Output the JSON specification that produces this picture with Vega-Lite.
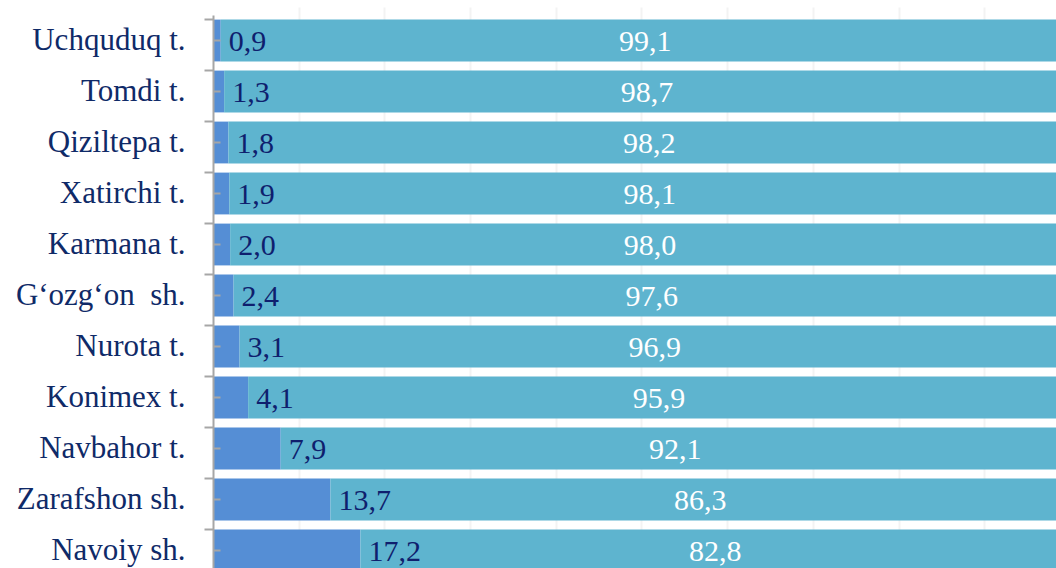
{
  "$schema": "https://vega.github.io/schema/vega-lite/v6.json",
  "autosize": {"type": "none"},
  "width": 843,
  "height": 553,
  "padding": {"left": 213, "top": 15, "right": 0, "bottom": 0},
  "background": "white",
  "config": {
    "view": {"stroke": null},
    "locale": {"number": {"decimal": ",", "thousands": " ", "grouping": [3], "currency": ["", ""]}},
    "font": "Liberation Serif"
  },
  "data": {"values": [
    {"region": "Uchquduq t.", "k": 1, "value": 0.9},
    {"region": "Uchquduq t.", "k": 2, "value": 99.1},
    {"region": "Tomdi t.", "k": 1, "value": 1.3},
    {"region": "Tomdi t.", "k": 2, "value": 98.7},
    {"region": "Qiziltepa t.", "k": 1, "value": 1.8},
    {"region": "Qiziltepa t.", "k": 2, "value": 98.2},
    {"region": "Xatirchi t.", "k": 1, "value": 1.9},
    {"region": "Xatirchi t.", "k": 2, "value": 98.1},
    {"region": "Karmana t.", "k": 1, "value": 2.0},
    {"region": "Karmana t.", "k": 2, "value": 98.0},
    {"region": "G‘ozg‘on \u00a0sh.", "k": 1, "value": 2.4},
    {"region": "G‘ozg‘on \u00a0sh.", "k": 2, "value": 97.6},
    {"region": "Nurota t.", "k": 1, "value": 3.1},
    {"region": "Nurota t.", "k": 2, "value": 96.9},
    {"region": "Konimex t.", "k": 1, "value": 4.1},
    {"region": "Konimex t.", "k": 2, "value": 95.9},
    {"region": "Navbahor t.\u00a0\u00a0", "k": 1, "value": 7.9},
    {"region": "Navbahor t.\u00a0\u00a0", "k": 2, "value": 92.1},
    {"region": "Zarafshon sh.", "k": 1, "value": 13.7},
    {"region": "Zarafshon sh.", "k": 2, "value": 86.3},
    {"region": "Navoiy sh.", "k": 1, "value": 17.2},
    {"region": "Navoiy sh.", "k": 2, "value": 82.8}
  ]},
  "resolve": {"axis": {"y": "independent"}},
  "layer": [
    {
      "mark": {"type": "bar", "clip": true},
      "encoding": {
        "y": {"field": "region", "type": "nominal", "sort": null,
              "scale": {"range": [0, 561], "paddingInner": 0.18, "paddingOuter": 0.09},
              "axis": {"orient": "left", "title": null, "domain": true, "domainColor": "#a6a6a6", "domainWidth": 2, "ticks": false, "labelPadding": 28, "labelFontSize": 31, "labelFont": "Liberation Serif", "labelColor": "#0f2a68", "zindex": 1, "grid": false}},
        "x": {"field": "value", "type": "quantitative", "stack": "zero",
              "scale": {"domain": [0, 98.37], "nice": false},
              "axis": {"labels": false, "ticks": false, "domain": false, "title": null, "grid": true, "gridColor": "#f3f3f3", "gridWidth": 2, "values": [10, 20, 30, 40, 50, 60, 70, 80, 90], "zindex": 0}},
        "order": {"field": "k", "type": "quantitative"},
        "color": {"field": "k", "type": "nominal", "legend": null,
                  "scale": {"domain": [1, 2], "range": ["#558ED5", "#5EB4CF"]}}
      }
    },
    {
      "mark": {"type": "text", "align": "left", "baseline": "middle", "dx": 8, "dy": 1, "fontSize": 30, "font": "Liberation Serif", "color": "#0f1f6e"},
      "transform": [{"filter": "datum.k == 1"}],
      "encoding": {
        "y": {"field": "region", "type": "nominal", "sort": null,
              "axis": {"orient": "left", "title": null, "labels": false, "domain": false, "ticks": true, "tickColor": "#a6a6a6", "tickWidth": 2, "tickSize": 9, "bandPosition": 0, "zindex": 1, "grid": false}},
        "x": {"field": "value", "type": "quantitative",
              "axis": {"labels": false, "ticks": false, "domain": false, "title": null, "grid": true, "gridColor": "#f3f3f3", "gridWidth": 2, "values": [10, 20, 30, 40, 50, 60, 70, 80, 90], "zindex": 0}},
        "text": {"field": "value", "type": "quantitative", "format": ".1f"}
      }
    },
    {
      "mark": {"type": "text", "align": "center", "baseline": "middle", "dy": 1, "fontSize": 30, "font": "Liberation Serif", "color": "white", "clip": true},
      "encoding": {
        "y": {"field": "region", "type": "nominal", "sort": null,
              "axis": {"orient": "left", "title": null, "labels": false, "domain": false, "ticks": true, "tickColor": "#a6a6a6", "tickWidth": 2, "tickSize": -7, "zindex": 1, "grid": false}},
        "x": {"field": "value", "type": "quantitative", "stack": "zero", "bandPosition": 0.5,
              "axis": {"labels": false, "ticks": false, "domain": false, "title": null, "grid": true, "gridColor": "#f3f3f3", "gridWidth": 2, "values": [10, 20, 30, 40, 50, 60, 70, 80, 90], "zindex": 0}},
        "order": {"field": "k", "type": "quantitative"},
        "text": {"field": "value", "type": "quantitative", "format": ".1f"},
        "opacity": {"condition": {"test": "datum.k == 2", "value": 1}, "value": 0}
      }
    }
  ]
}
